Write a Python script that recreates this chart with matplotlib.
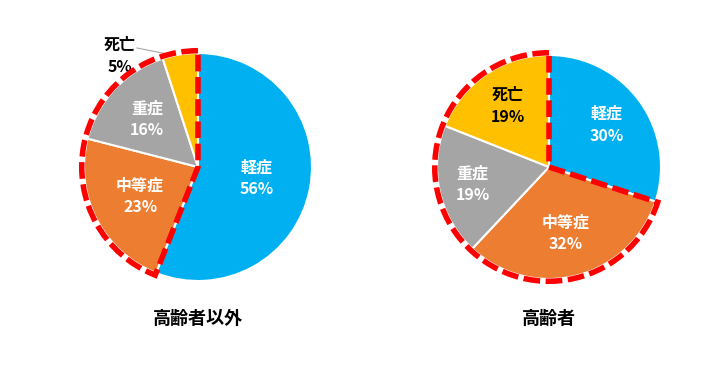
import numpy as np
import matplotlib.pyplot as plt
from matplotlib.patches import Wedge

plt.rcParams['font.family'] = ['Noto Sans CJK JP', 'DejaVu Sans']

labels = ['軽症', '中等症', '重症', '死亡']
colors = ['#00B0F0', '#ED7D31', '#A5A5A5', '#FFC000']
text_colors = ['white', 'white', 'white', 'black']

others_values = [56, 23, 16, 5]
elderly_values = [30, 32, 19, 19]
titles = ['高齢者以外', '高齢者']

W, H = 721, 379


def draw_pie(values, title, cx, cy, R, dist, outside_last=False):
    ax = plt.gcf().add_axes([(cx - 150) / W, 1 - (cy + 150) / H, 300 / W, 300 / H])
    ax.pie(values, colors=colors, startangle=90, counterclock=False, radius=R,
           wedgeprops=dict(edgecolor='white', linewidth=1.5))
    ax.set_xlim(-150, 150)
    ax.set_ylim(-150, 150)
    ax.set_aspect('equal')
    ax.axis('off')

    frac = np.array(values) / np.sum(values)
    ends = 90 - 360 * np.cumsum(frac)
    starts = ends + 360 * frac
    mids = np.radians((starts + ends) / 2)

    for i, lab in enumerate(labels):
        txt = lab + '\n' + str(values[i]) + '%'
        if outside_last and i == len(labels) - 1:
            # label outside with a leader line
            tx, ty = -78, 111
            ax.text(tx, ty, txt, ha='center', va='center', fontsize=11.5,
                    fontweight='bold', color='black', linespacing=1.45)
            ex, ey = R * np.cos(mids[i] + 0.05), R * np.sin(mids[i] + 0.05)
            ax.plot([tx + 17, ex], [ty + 8, ey], color='#A6A6A6', lw=0.8)
        else:
            ax.text(dist[i] * R * np.cos(mids[i]), dist[i] * R * np.sin(mids[i]), txt,
                    ha='center', va='center', fontsize=11.5, fontweight='bold',
                    color=text_colors[i], linespacing=1.45)

    # red dashed outline around everything except 軽症
    outline = Wedge((0, 0), R * 1.02, 90, ends[0] + 360, fill=False,
                    edgecolor='#FF0000', linewidth=4, linestyle=(0, (3.0, 1.0)),
                    zorder=5)
    ax.add_patch(outline)

    plt.gcf().text(cx / W, 1 - 318 / H, title, ha='center', va='center',
                   fontsize=13, fontweight='bold', color='black')


fig = plt.figure(figsize=(7.21, 3.79), dpi=100)
draw_pie(others_values, titles[0], 198, 167, 114, [0.52, 0.57, 0.61, 0.6], outside_last=True)
draw_pie(elderly_values, titles[1], 549, 167, 112, [0.64, 0.61, 0.70, 0.66])
fig.savefig('out.png', dpi=100)
